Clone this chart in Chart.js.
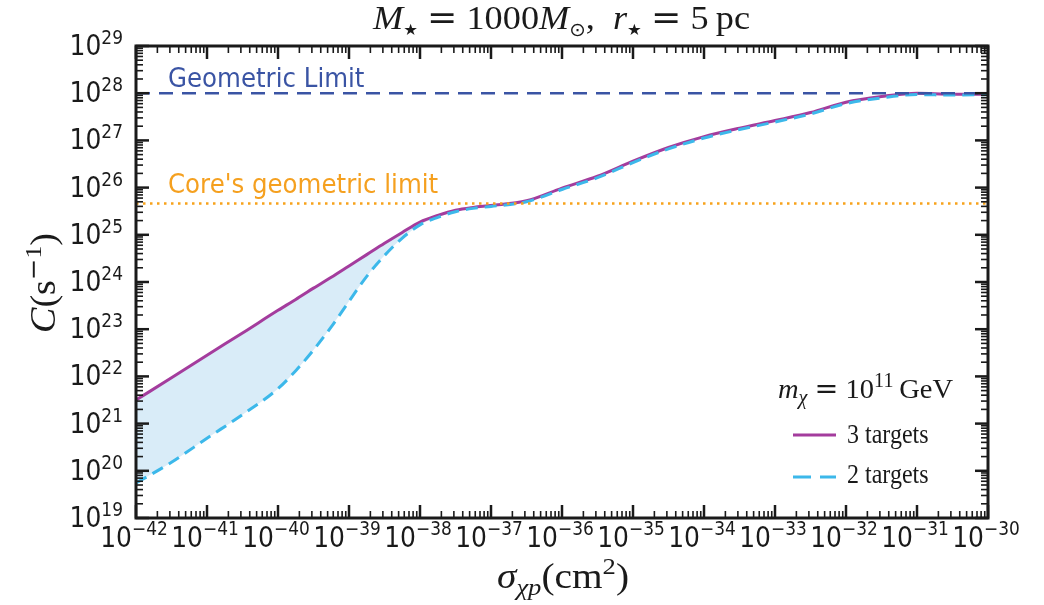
<!DOCTYPE html>
<html>
<head>
<meta charset="utf-8">
<script src="https://cdn.jsdelivr.net/npm/chart.js@4.4.1/dist/chart.umd.min.js"></script>
<style>
  html, body { margin: 0; padding: 0; background: #fff; }
  #wrap { width: 1044px; height: 605px; position: relative; }
</style>
</head>
<body>
<div id="wrap"><canvas id="chart"></canvas></div>
<script>
// log10 of sigma_chi_p in cm^2
const logSigma = [-42, -41.5, -41, -40.5, -40, -39.75, -39.5, -39.25, -39, -38.75, -38.5, -38.25, -38, -37.75, -37.5, -37.25, -37,
  -36.5, -36, -35.5, -35, -34.5, -34, -33.5, -33, -32.5, -32, -31.5, -31, -30.5, -30];
// log10 of capture rate C (s^-1), 3 targets
const logC3 = [21.50, 21.97, 22.45, 22.92, 23.40, 23.63, 23.87, 24.10, 24.34, 24.58, 24.82, 25.05, 25.27, 25.41, 25.52, 25.58, 25.62,
  25.72, 25.99, 26.24, 26.56, 26.85, 27.08, 27.26, 27.42, 27.59, 27.81, 27.93, 28.00, 27.98, 27.98];
// log10 of capture rate C (s^-1), 2 targets
const logC2 = [19.74, 20.18, 20.69, 21.19, 21.74, 22.12, 22.56, 23.05, 23.59, 24.12, 24.56, 24.93, 25.21, 25.37, 25.49, 25.56, 25.60,
  25.70, 25.96, 26.21, 26.53, 26.82, 27.05, 27.23, 27.39, 27.56, 27.78, 27.90, 27.97, 27.96, 27.97];
const geomLimit = 1e28;
const coreLimit = 4.6e25;
const xTickExps = [-42, -41, -40, -39, -38, -37, -36, -35, -34, -33, -32, -31, -30];
const yTickExps = [19, 20, 21, 22, 23, 24, 25, 26, 27, 28, 29];

const xMin = Math.pow(10, xTickExps[0]);
const xMax = Math.pow(10, xTickExps[xTickExps.length - 1]);
const toPoints = arr => logSigma.map((s, i) => ({ x: Math.pow(10, s), y: Math.pow(10, arr[i]) }));

const SERIF = '"Liberation Serif", "DejaVu Serif", serif';
const SANS = '"DejaVu Sans", sans-serif';
const EQ = '"DejaVu Serif", serif';

// draw a row of text pieces one after another; sx/sy stretch the glyphs
function drawRuns(ctx, runs, x, y, align, sx = 1, sy = 1) {
  let w = 0;
  runs.forEach(r => { ctx.font = r.f; r.w = ctx.measureText(r.t).width * sx; w += r.w; });
  let cx = align === 'center' ? x - w / 2 : align === 'right' ? x - w : x;
  runs.forEach(r => {
    ctx.save();
    ctx.translate(cx, y + (r.dy || 0));
    ctx.scale(sx, sy);
    ctx.font = r.f;
    ctx.fillText(r.t, 0, 0);
    ctx.restore();
    cx += r.w;
  });
}
// same, but stretched so the row spans left..right (math text is set wider than the serif font)
function fitRuns(ctx, runs, left, right, y, sy = 1) {
  let w = 0;
  runs.forEach(r => { ctx.font = r.f; w += ctx.measureText(r.t).width; });
  drawRuns(ctx, runs, left, y, 'left', (right - left) / w, sy);
}

const decor = {
  id: 'decor',
  afterDraw(chart) {
    const { ctx, chartArea: a, scales: { x, y } } = chart;
    ctx.save();
    ctx.textAlign = 'left';
    ctx.textBaseline = 'alphabetic';
    ctx.strokeStyle = '#1a1a1a';
    ctx.fillStyle = '#1a1a1a';

    const tick = (x1, y1, x2, y2, w) => {
      ctx.lineWidth = w;
      ctx.beginPath(); ctx.moveTo(x1, y1); ctx.lineTo(x2, y2); ctx.stroke();
    };
    xTickExps.forEach((e, i) => {
      const px = x.getPixelForValue(Math.pow(10, e));
      tick(px, a.bottom, px, a.bottom - 13, 2.5);
      tick(px, a.top, px, a.top + 13, 2.5);
      if (i < xTickExps.length - 1) {
        for (let k = 2; k < 10; k++) {
          const mx = x.getPixelForValue(k * Math.pow(10, e));
          tick(mx, a.bottom, mx, a.bottom - 7, 1.6);
          tick(mx, a.top, mx, a.top + 7, 1.6);
        }
      }
    });
    yTickExps.forEach((e, i) => {
      const py = y.getPixelForValue(Math.pow(10, e));
      tick(a.left, py, a.left + 13, py, 2.5);
      tick(a.right, py, a.right - 13, py, 2.5);
      if (i < yTickExps.length - 1) {
        for (let k = 2; k < 10; k++) {
          const my = y.getPixelForValue(k * Math.pow(10, e));
          tick(a.left, my, a.left + 7, my, 1.6);
          tick(a.right, my, a.right - 7, my, 1.6);
        }
      }
    });
    ctx.lineWidth = 3;
    ctx.strokeRect(a.left, a.top, a.right - a.left, a.bottom - a.top);

    // tick labels
    const big = '25px ' + SANS, small = '17px ' + SANS;
    xTickExps.forEach(e => {
      const px = x.getPixelForValue(Math.pow(10, e));
      drawRuns(ctx, [{ t: '10', f: big }, { t: '\u2212' + Math.abs(e), f: small, dy: -12 }], px - 2, a.bottom + 29, 'center', 1, 1.1);
    });
    yTickExps.forEach(e => {
      const py = y.getPixelForValue(Math.pow(10, e));
      drawRuns(ctx, [{ t: '10', f: big }, { t: String(e), f: small, dy: -11 }], a.left - 13, py + 9, 'right', 1, 1.1);
    });

    // title
    const it = 'italic 33px ' + SERIF, rm = '33px ' + SERIF, star = '15px ' + SANS, eq = '33px ' + EQ;
    fitRuns(ctx, [
      { t: 'M', f: it }, { t: '\u2605', f: star, dy: 6 }, { t: ' ', f: rm }, { t: '=', f: eq }, { t: ' ', f: rm },
      { t: '1000', f: rm }, { t: 'M', f: it }, { t: '\u2299', f: '18px ' + SANS, dy: 7 }, { t: ',  ', f: rm },
      { t: 'r', f: it }, { t: '\u2605', f: star, dy: 6 }, { t: ' ', f: rm }, { t: '=', f: eq }, { t: ' ', f: rm },
      { t: '5\u2009pc', f: rm }
    ], 373, 750, 29, 1.05);

    // x axis title
    fitRuns(ctx, [
      { t: '\u03c3', f: 'italic 34px ' + SERIF }, { t: '\u03c7p', f: 'italic 23px ' + SERIF, dy: 7 },
      { t: '(cm', f: '34px ' + SERIF }, { t: '2', f: '23px ' + SERIF, dy: -14 }, { t: ')', f: '34px ' + SERIF }
    ], 497, 629, 588, 1.03);

    // y axis title
    ctx.save();
    ctx.translate(55, 333);
    ctx.rotate(-Math.PI / 2);
    fitRuns(ctx, [
      { t: 'C', f: 'italic 34px ' + SERIF }, { t: '(s', f: '34px ' + SERIF },
      { t: '\u2212', f: '23px ' + SANS, dy: -14 }, { t: '1', f: '23px ' + SERIF, dy: -14 }, { t: ')', f: '34px ' + SERIF }
    ], 0, 100, 0, 1.03);
    ctx.restore();

    // limit annotations
    ctx.fillStyle = '#3a54a4';
    drawRuns(ctx, [{ t: 'Geometric Limit', f: '24.5px ' + SANS }], 168, 87, 'left', 1, 1.08);
    ctx.fillStyle = '#f5a01f';
    drawRuns(ctx, [{ t: "Core's geometric limit", f: '24.5px ' + SANS }], 168, 193, 'left', 1, 1.08);

    // legend
    ctx.fillStyle = '#1a1a1a';
    fitRuns(ctx, [
      { t: 'm', f: 'italic 27px ' + SERIF }, { t: '\u03c7', f: 'italic 19px ' + SERIF, dy: 6 },
      { t: ' ', f: '27px ' + SERIF }, { t: '=', f: '27px ' + EQ }, { t: ' ', f: '27px ' + SERIF },
      { t: '10', f: '27px ' + SERIF }, { t: '11', f: '19px ' + SERIF, dy: -11 }, { t: '\u2009GeV', f: '27px ' + SERIF }
    ], 778, 953, 398, 1.05);
    drawRuns(ctx, [{ t: '3 targets', f: '24px ' + SERIF }], 847, 443, 'left', 1, 1.1);
    drawRuns(ctx, [{ t: '2 targets', f: '24px ' + SERIF }], 847, 483, 'left', 1, 1.1);
    ctx.lineWidth = 3;
    ctx.strokeStyle = '#a43c9d';
    ctx.beginPath(); ctx.moveTo(793, 435); ctx.lineTo(836, 435); ctx.stroke();
    ctx.strokeStyle = '#3cb8ea';
    ctx.setLineDash([18, 9]);
    ctx.beginPath(); ctx.moveTo(793, 477); ctx.lineTo(836, 477); ctx.stroke();
    ctx.restore();
  }
};

new Chart(document.getElementById('chart'), {
  type: 'line',
  data: {
    datasets: [
      {
        label: 'Geometric Limit',
        data: [{ x: xMin, y: geomLimit }, { x: xMax, y: geomLimit }],
        borderColor: '#3a54a4', borderWidth: 2.5, borderDash: [14, 9], pointRadius: 0, fill: false
      },
      {
        label: "Core's geometric limit",
        data: [{ x: xMin, y: coreLimit }, { x: xMax, y: coreLimit }],
        borderColor: '#f7a21b', borderWidth: 2.5, borderDash: [2.5, 4.5], pointRadius: 0, fill: false
      },
      {
        label: '2 targets',
        data: toPoints(logC2),
        borderColor: '#3cb8ea', borderWidth: 3, borderDash: [12, 7], pointRadius: 0,
        backgroundColor: '#d9ecf8', fill: { target: 3 }, cubicInterpolationMode: 'monotone'
      },
      {
        label: '3 targets',
        data: toPoints(logC3),
        borderColor: '#a43c9d', borderWidth: 3, pointRadius: 0, fill: false, cubicInterpolationMode: 'monotone'
      }
    ]
  },
  options: {
    responsive: true,
    maintainAspectRatio: false,
    animation: false,
    layout: { padding: { left: 136, right: 56, top: 46, bottom: 87 } },
    scales: {
      x: { type: 'logarithmic', min: xMin, max: xMax, display: false },
      y: { type: 'logarithmic', min: 1e19, max: 1e29, display: false }
    },
    plugins: {
      legend: { display: false },
      tooltip: { enabled: false },
      filler: { drawTime: 'beforeDatasetsDraw' }
    }
  },
  plugins: [decor]
});
</script>
</body>
</html>
